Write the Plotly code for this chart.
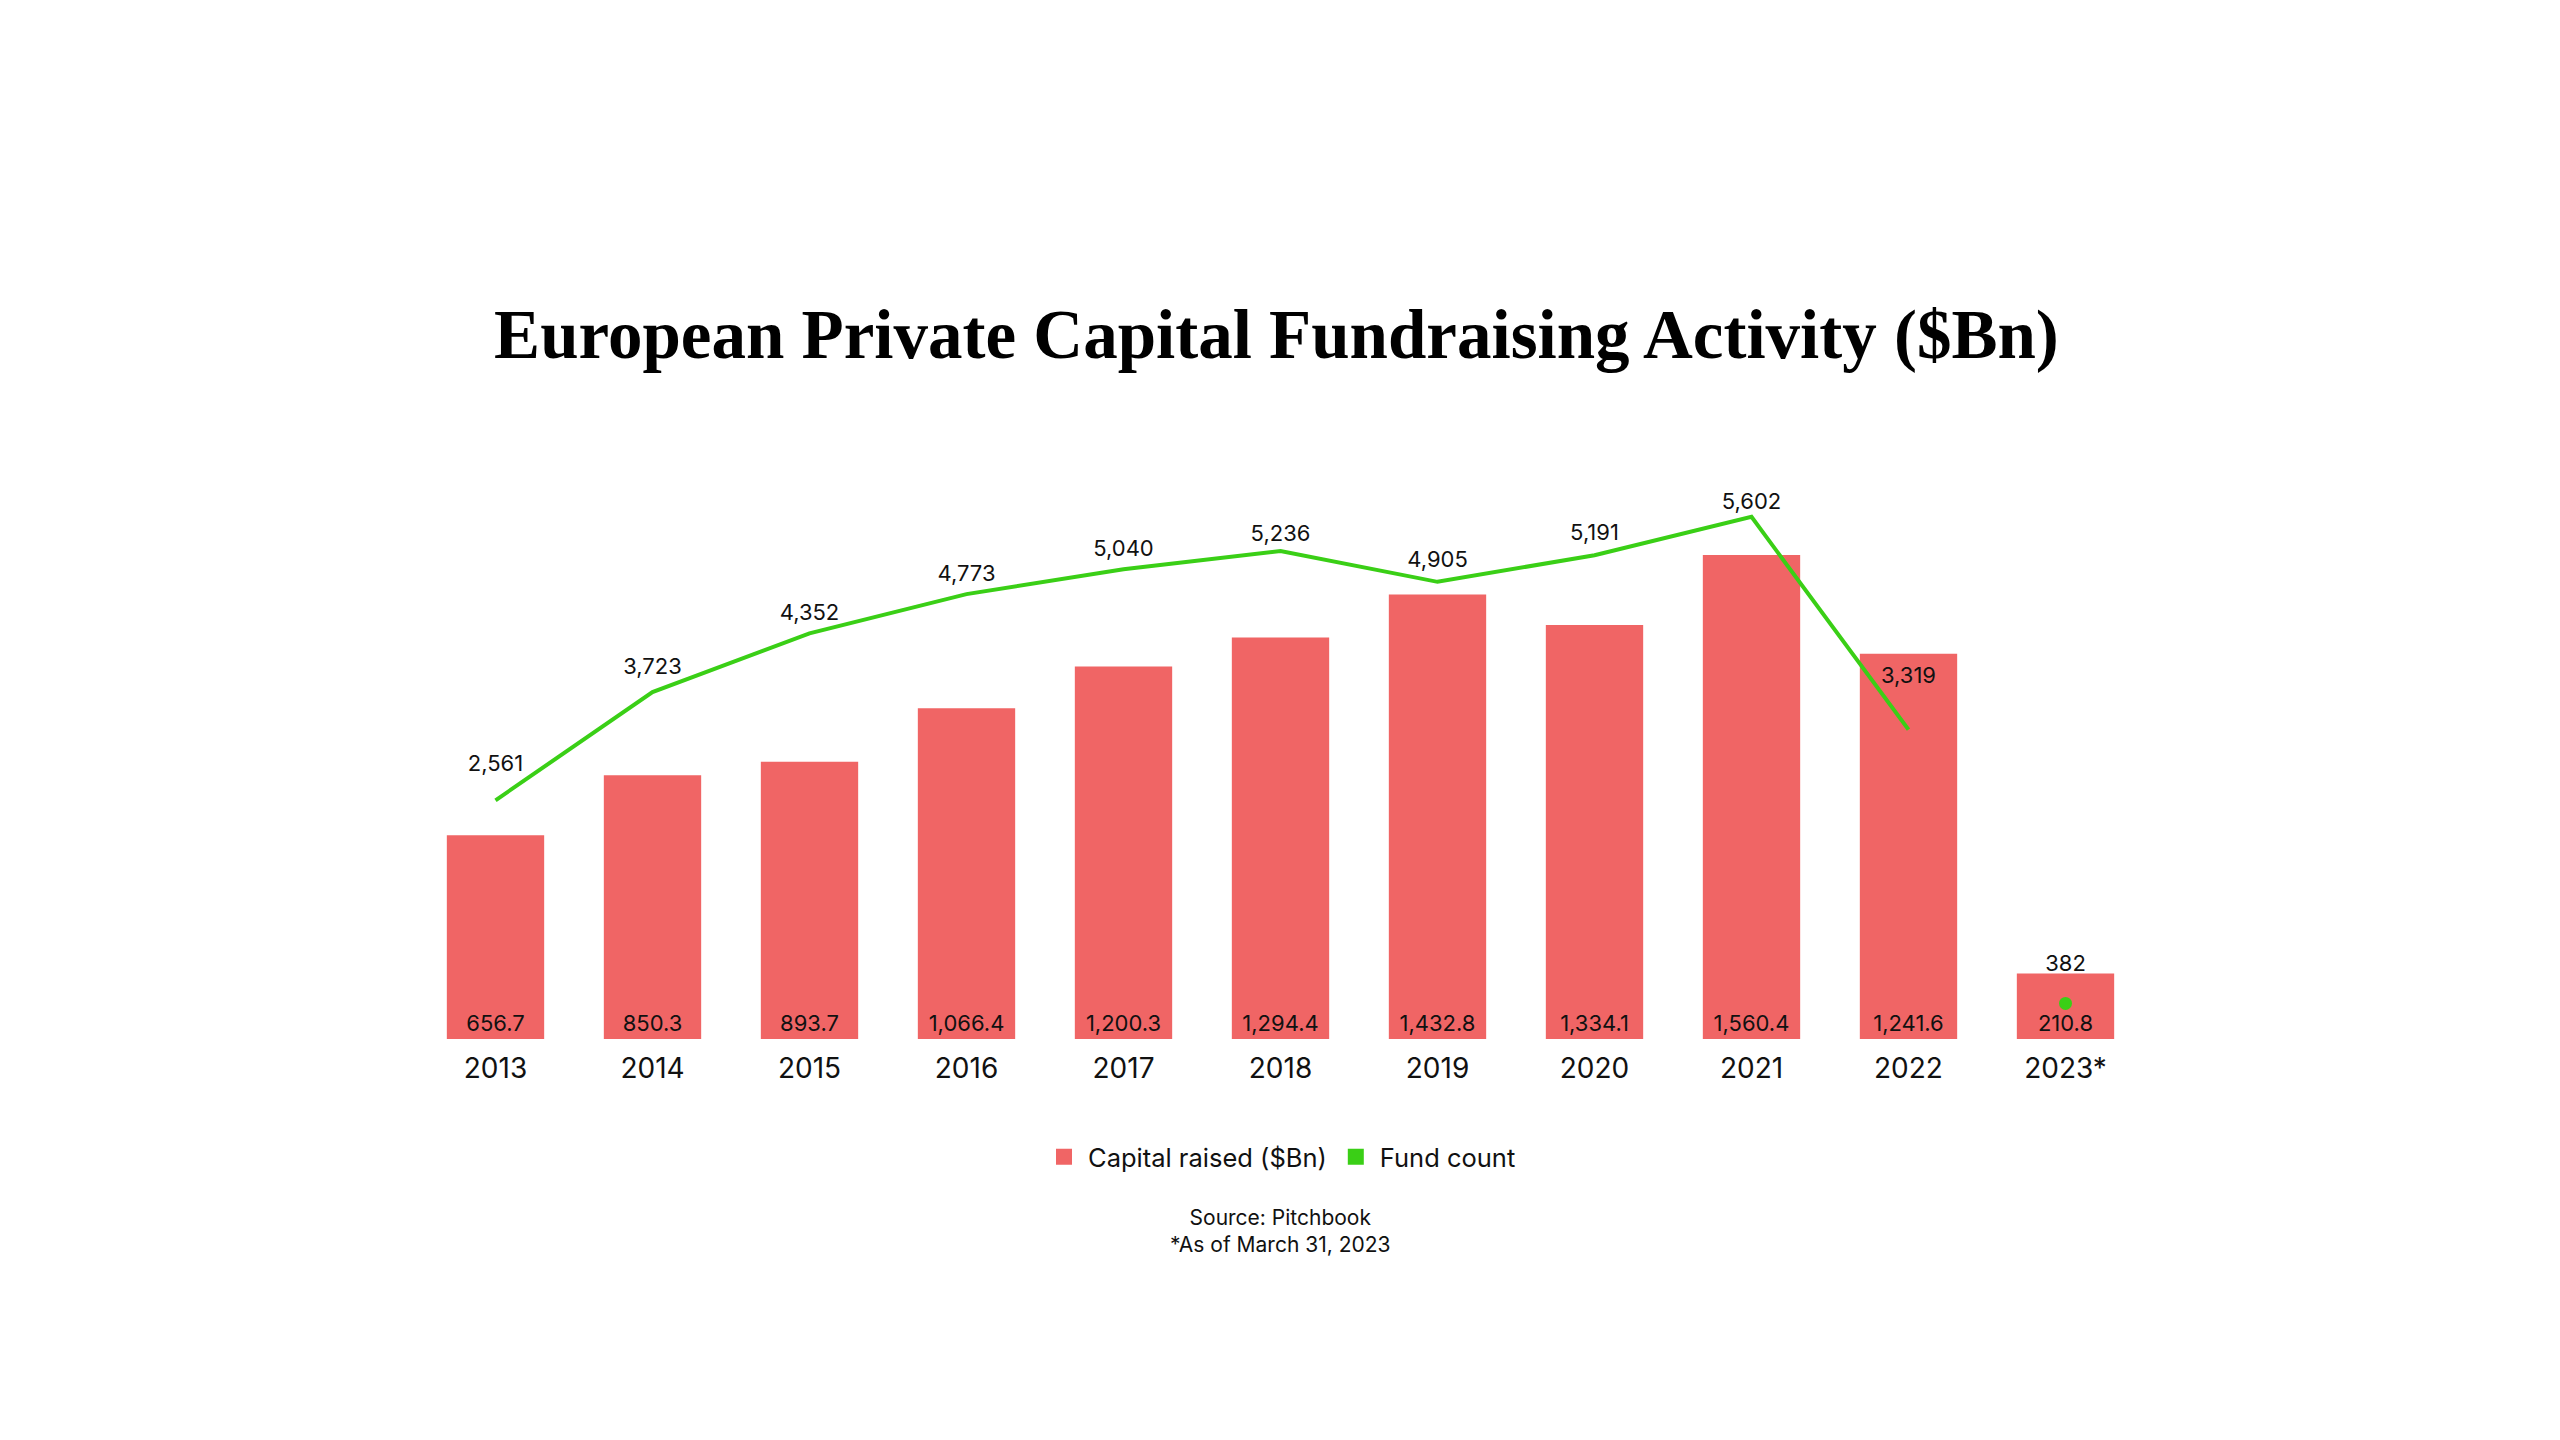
import plotly.graph_objects as go

years = ["2013", "2014", "2015", "2016", "2017", "2018", "2019", "2020", "2021", "2022", "2023*"]
capital_raised = [656.7, 850.3, 893.7, 1066.4, 1200.3, 1294.4, 1432.8, 1334.1, 1560.4, 1241.6, 210.8]
fund_count = [2561, 3723, 4352, 4773, 5040, 5236, 4905, 5191, 5602, 3319, 382]

# invisible marker sizes, used only to set each fund-count label's distance above its point
label_pad = [37, 18, 11, 11, 11, 5, 14, 14, 2, 64, 41]

RED = "#F06565"
GREEN = "#3ACF16"
SANS = "Inter, Roboto, Arial, sans-serif"
LABEL_FONT = dict(family=SANS, size=22, color="#111111")
CLEAR = "rgba(0,0,0,0)"

fig = go.Figure()

fig.add_trace(go.Bar(
    x=years, y=capital_raised,
    marker=dict(color=RED, line=dict(width=0)),
    text=[f"{v:,.1f}" for v in capital_raised],
    textposition="inside", insidetextanchor="start", textangle=0,
    textfont=LABEL_FONT,
    constraintext="none",
    showlegend=False, yaxis="y",
))

# Fund count line (full years)
fig.add_trace(go.Scatter(
    x=years[:-1], y=fund_count[:-1],
    mode="lines+markers+text",
    line=dict(color=GREEN, width=4),
    marker=dict(size=label_pad[:-1], color=CLEAR, opacity=0, line=dict(width=0, color=CLEAR)),
    text=[f"{v:,}" for v in fund_count[:-1]],
    textposition="top center",
    textfont=LABEL_FONT,
    showlegend=False, yaxis="y2",
))

# Partial year label (invisible marker only sets label offset)
fig.add_trace(go.Scatter(
    x=years[-1:], y=fund_count[-1:],
    mode="markers+text",
    marker=dict(size=label_pad[-1:], color=CLEAR, opacity=0, line=dict(width=0, color=CLEAR)),
    text=[f"{v:,}" for v in fund_count[-1:]],
    textposition="top center",
    textfont=LABEL_FONT,
    showlegend=False, yaxis="y2",
))
# Partial year point
fig.add_trace(go.Scatter(
    x=years[-1:], y=fund_count[-1:],
    mode="markers",
    marker=dict(size=13, color=GREEN, line=dict(width=0)),
    showlegend=False, yaxis="y2",
))

# Legend entries
fig.add_trace(go.Scatter(x=[None], y=[None], mode="markers", name="Capital raised ($Bn)",
                         marker=dict(symbol="square", size=16, color=RED, line=dict(width=0))))
fig.add_trace(go.Scatter(x=[None], y=[None], mode="markers", name="Fund count",
                         marker=dict(symbol="square", size=16, color=GREEN, line=dict(width=0))))

fig.update_layout(
    width=2560, height=1440,
    paper_bgcolor="white", plot_bgcolor="white",
    margin=dict(l=409, r=424, t=440, b=409),
    bargap=0.38,
    title=dict(
        text="<b>European Private Capital Fundraising Activity ($Bn)</b>",
        x=0.4955, xanchor="center", y=1 - 326 / 1440, yanchor="middle",
        font=dict(family="Liberation Serif, DejaVu Serif, serif", size=69, color="#000000"),
    ),
    xaxis=dict(
        type="category", range=[-0.5, 10.5], showgrid=False, showline=False, zeroline=False,
        ticks="", ticklabelstandoff=10,
        tickfont=dict(family=SANS, size=28, color="#111111"),
    ),
    yaxis=dict(range=[0, 1905], visible=False, showgrid=False, zeroline=False),
    yaxis2=dict(range=[0, 6341], visible=False, overlaying="y", side="right",
                showgrid=False, zeroline=False),
    legend=dict(
        orientation="h", x=0.5, xanchor="center", y=-0.2, yanchor="middle",
        font=dict(family=SANS, size=25.5, color="#111111"),
        itemsizing="trace", itemwidth=38, bgcolor="rgba(0,0,0,0)",
    ),
    annotations=[dict(
        text="Source: Pitchbook<br>*As of March 31, 2023",
        x=0.5, xref="paper", xanchor="center",
        y=(1041 - 1233) / 591, yref="paper", yanchor="middle",
        showarrow=False, align="center",
        font=dict(family=SANS, size=21, color="#111111"),
    )],
)

fig.write_html("out.html")
